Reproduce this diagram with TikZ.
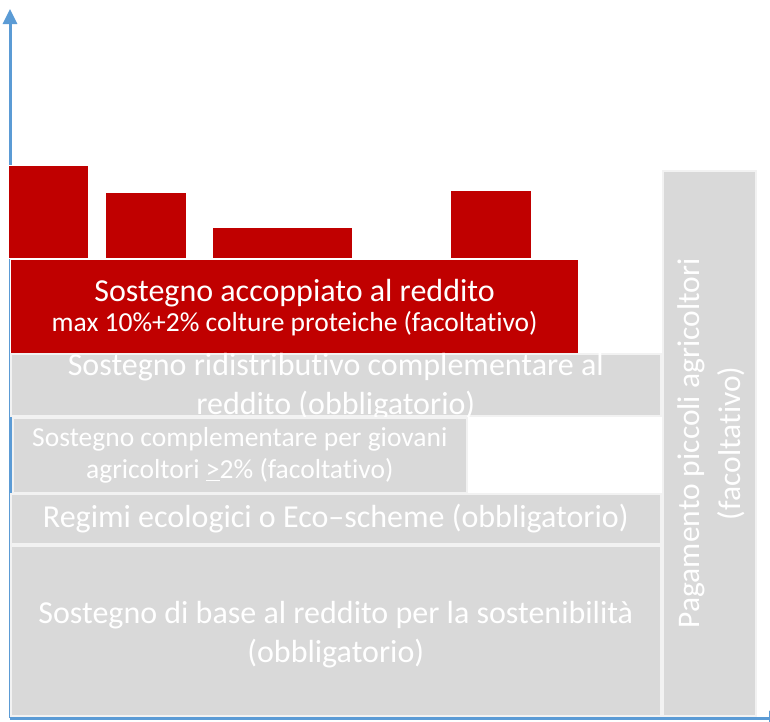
\documentclass[tikz,border=0pt]{standalone}
\usepackage{fontspec}
\setmainfont{Carlito}[Ligatures={TeX,NoCommon}]
\usetikzlibrary{arrows.meta}

\definecolor{barred}{HTML}{C00000}
\definecolor{bargray}{HTML}{D9D9D9}
\definecolor{axisblue}{HTML}{5B9BD5}

\newcommand{\bigtxt}{\fontsize{32}{39}\selectfont}
\newcommand{\smalltxt}{\fontsize{27.5}{32}\selectfont}
\newcommand{\redsmall}{\fontsize{27.5}{33}\selectfont}
\newcommand{\coltxt}{\fontsize{31.5}{41}\selectfont}

\tikzset{
  axisline/.style={draw=axisblue, line width=3pt, -{Triangle[width=14pt,length=15pt]}},
  redbar/.style={fill=barred, draw=white, line width=1.2pt, anchor=north west},
  graybar/.style={fill=bargray, draw=white!95!black, line width=1.6pt, anchor=north west},
  bartext/.style={text=white, align=center},
}

\begin{document}
\begin{tikzpicture}[x=1pt,y=-1pt]
        \tikzstyle{every node}+=[inner sep=0pt]
        \useasboundingbox (0,0) rectangle (770,721);
        % axes
        \coordinate (origin) at (10,718);
        \coordinate (ytop) at (10,9);
        \coordinate (xend) at (784,718);
        \draw [axisline] (origin) -- (ytop);
        \draw [axisline] (origin) -- (xend);
        % red bars on top
        \node [redbar, minimum width=80, minimum height=93] (red1) at (8,165) {};
        \node [redbar, minimum width=81, minimum height=66] (red2) at (105,192) {};
        \node [redbar, minimum width=140, minimum height=31] (red3) at (212,227) {};
        \node [redbar, minimum width=81, minimum height=68] (red4) at (450,190) {};
        \node [redbar, minimum width=568, minimum height=94] (coupled) at (10,259) {};
        \node [bartext, yshift=-1pt] (coupledtxt) at (coupled.center)
          {\bigtxt Sostegno accoppiato al reddito\\[4pt]
           \redsmall max 10\%+2\% colture proteiche (facoltativo)};
        % grey layers
        \node [graybar, minimum width=650, minimum height=62] (redistr) at (10,353) {};
        \node [bartext, font=\bigtxt, yshift=-2pt] (redistrtxt) at (redistr.center)
          {Sostegno ridistributivo complementare al\\reddito (obbligatorio)};
        \node [graybar, minimum width=454, minimum height=75] (young) at (12,417) {};
        \node [bartext, font=\smalltxt] (youngtxt) at (young.center)
          {Sostegno complementare per giovani\\agricoltori \underline{>}2\% (facoltativo)};
        \node [graybar, minimum width=650, minimum height=50] (eco) at (10,493) {};
        \node [bartext, font=\bigtxt] (ecotxt) at (eco.center)
          {Regimi ecologici o Eco–scheme (obbligatorio)};
        \node [graybar, minimum width=650, minimum height=170] (base) at (10,545) {};
        \node [bartext, font=\bigtxt, yshift=-4pt] (basetxt) at (base.center)
          {Sostegno di base al reddito per la sostenibilità\\(obbligatorio)};
        % small farmers column
        \node [graybar, minimum width=93, minimum height=545] (small) at (662,170) {};
        \node [bartext, font=\coltxt, rotate=90, yshift=-2pt] (smalltxt) at (small.center)
          {Pagamento piccoli agricoltori\\(facoltativo)};
\end{tikzpicture}
\end{document}
